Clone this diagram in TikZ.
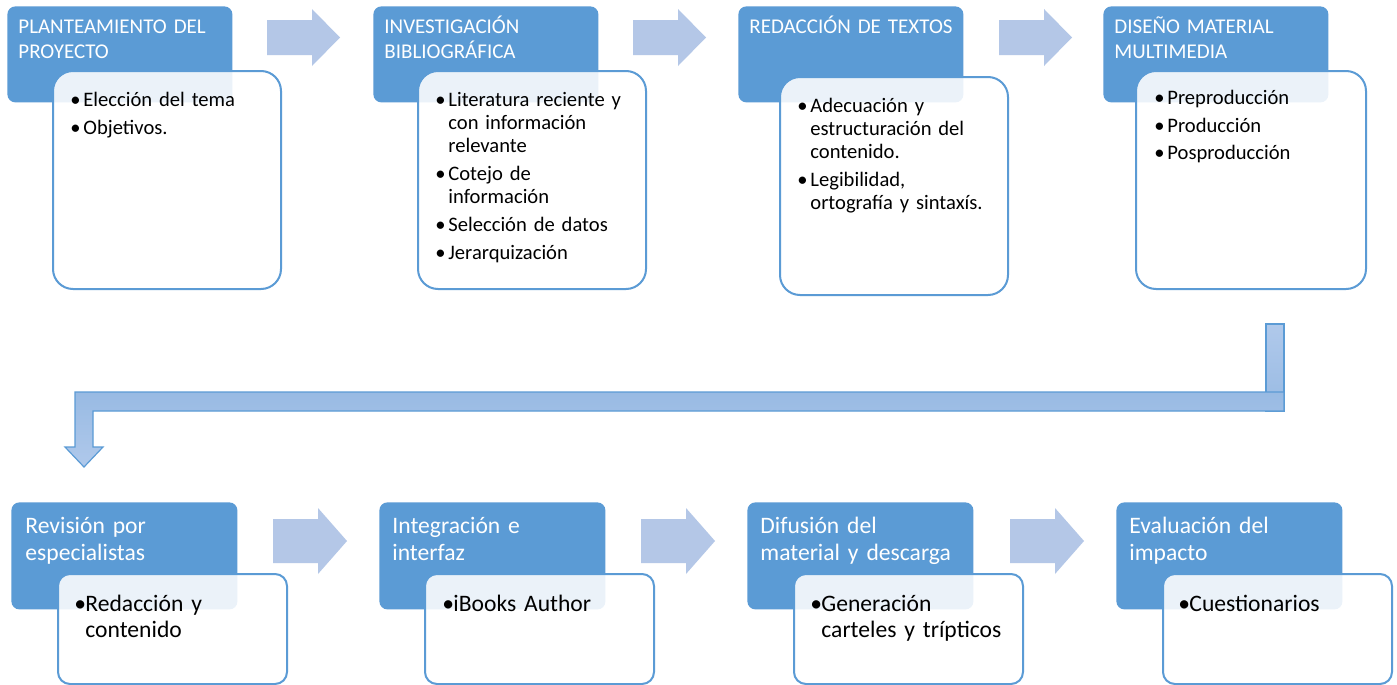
\documentclass[tikz,border=0pt]{standalone}
\usepackage{fontspec}
\setmainfont{Carlito}
\usepackage{tikz}

\definecolor{azul}{HTML}{5B9BD5}
\definecolor{azulclaro}{HTML}{B4C7E7}
\definecolor{azulbarra}{HTML}{98BAE3}
\definecolor{azulpunta}{HTML}{B0C9EB}

\newcommand\itm[1][5pt]{\leavevmode\llap{\makebox[#1][l]{\hspace{-1.5pt}\textbullet}}}

\begin{document}
\begin{tikzpicture}[x=0.5pt,y=-0.5pt,
	cabecera/.style={fill=azul, rounded corners=4pt, anchor=north west, inner sep=0pt,
		minimum width=112.5pt, minimum height=48pt},
	cabecerab/.style={cabecera, minimum width=113pt, minimum height=53.5pt},
	detalle/.style={draw=azul, line width=1pt, fill=white, fill opacity=0.88,
		rounded corners=10pt, anchor=north west, inner sep=0pt,
		minimum width=114pt, minimum height=109pt},
	detalleb/.style={detalle, rounded corners=6pt, minimum width=114.5pt, minimum height=55pt},
	titulo/.style={anchor=base west, inner sep=0pt, text=white, text width=110pt, align=left,
		font=\fontsize{10.5}{12.5}\selectfont},
	titulob/.style={titulo, font=\fontsize{11.8}{13.5}\selectfont},
	lista/.style={anchor=base west, inner sep=0pt, text width=100pt, align=left,
		font=\fontsize{10.3}{11.5}\selectfont},
	listab/.style={lista, font=\fontsize{11.8}{13}\selectfont},
	flecha/.style={fill=azulclaro},
	barra/.style={draw=azul, line width=0.6pt}]

	\fill[white] (0,0) rectangle (1397,685);
	\useasboundingbox (0,0) rectangle (1397,685);

	% fila de arriba
	\node[cabecera] (h1) at (7,6) {};
	\node[cabecera] (h2) at (373,6) {};
	\node[cabecera] (h3) at (738,6) {};
	\node[cabecera] (h4) at (1103,6) {};

	\node[detalle] (d1) at (52,70) {};
	\node[detalle] (d2) at (417,70) {};
	\node[detalle] (d3) at (779,76) {};
	\node[detalle, minimum width=115pt] (d4) at (1135,70) {};

	\node[titulo] (h1t) at (18,33) {PLANTEAMIENTO DEL\\PROYECTO};
	\node[titulo] (h2t) at (384,33) {INVESTIGACIÓN\\BIBLIOGRÁFICA};
	\node[titulo] (h3t) at (749,33) {REDACCIÓN DE TEXTOS};
	\node[titulo] (h4t) at (1114,33) {DISEÑO MATERIAL\\MULTIMEDIA};

	\node[lista] (d1t) at (83,106) {\itm Elección del tema\\[2.5pt]\itm Objetivos.};
	\node[lista] (d2t) at (448,106) {\itm Literatura reciente y\\con información\\relevante\\[2.5pt]%
		\itm Cotejo de\\información\\[2.5pt]\itm Selección de datos\\[2.5pt]\itm Jerarquización};
	\node[lista] (d3t) at (810,112) {\itm Adecuación y\\estructuración del\\contenido.\\[2.5pt]%
		\itm Legibilidad,\\ortografía y sintaxís.};
	\node[lista] (d4t) at (1167,104) {\itm Preproducción\\[2.5pt]\itm Producción\\[2.5pt]\itm Posproducción};

	\coordinate (a1) at (267,20);
	\coordinate (a2) at (633,20);
	\coordinate (a3) at (999,20);
	\fill[flecha] (a1) -- ++(45,0) -- ++(0,-11) -- ++(28,28.5) -- ++(-28,28.5) -- ++(0,-11) -- ++(-45,0) -- cycle;
	\fill[flecha] (a2) -- ++(45,0) -- ++(0,-11) -- ++(28,28.5) -- ++(-28,28.5) -- ++(0,-11) -- ++(-45,0) -- cycle;
	\fill[flecha] (a3) -- ++(45,0) -- ++(0,-11) -- ++(28,28.5) -- ++(-28,28.5) -- ++(0,-11) -- ++(-45,0) -- cycle;

	% flecha acodada
	\coordinate (b0) at (1266,324);
	\coordinate (b1) at (1284,411);
	\draw[barra, top color=azulpunta, bottom color=azulbarra] (b0) rectangle (b1);
	\draw[barra, top color=azulbarra, bottom color=azulpunta]
		(1284,392) -- (75,392) -- (75,447) -- (65,447) -- (84,467) -- (103,447)
		-- (93,447) -- (93,411) -- (b1) -- cycle;

	% fila de abajo
	\node[cabecerab] (h5) at (11,502) {};
	\node[cabecerab] (h6) at (379,502) {};
	\node[cabecerab] (h7) at (747,502) {};
	\node[cabecerab] (h8) at (1116,502) {};

	\node[detalleb] (d5) at (57,573) {};
	\node[detalleb] (d6) at (424,573) {};
	\node[detalleb] (d7) at (793,573) {};
	\node[detalleb] (d8) at (1162,573) {};

	\node[titulob] (h5t) at (25,533) {Revisión por\\especialistas};
	\node[titulob] (h6t) at (392,533) {Integración e\\interfaz};
	\node[titulob] (h7t) at (760,533) {Difusión del\\material y descarga};
	\node[titulob] (h8t) at (1129,533) {Evaluación del\\impacto};

	\node[listab] (d5t) at (85,611) {\itm[4pt]Redacción y\\contenido};
	\node[listab] (d6t) at (453,611) {\itm[4pt]iBooks Author};
	\node[listab] (d7t) at (821,611) {\itm[4pt]Generación\\carteles y trípticos};
	\node[listab] (d8t) at (1189,611) {\itm[4pt]Cuestionarios};

	\coordinate (a5) at (273,519);
	\coordinate (a6) at (641,519);
	\coordinate (a7) at (1010,519);
	\fill[flecha] (a5) -- ++(45,0) -- ++(0,-11) -- ++(29,33) -- ++(-29,33) -- ++(0,-11) -- ++(-45,0) -- cycle;
	\fill[flecha] (a6) -- ++(45,0) -- ++(0,-11) -- ++(29,33) -- ++(-29,33) -- ++(0,-11) -- ++(-45,0) -- cycle;
	\fill[flecha] (a7) -- ++(45,0) -- ++(0,-11) -- ++(29,33) -- ++(-29,33) -- ++(0,-11) -- ++(-45,0) -- cycle;
\end{tikzpicture}
\end{document}
